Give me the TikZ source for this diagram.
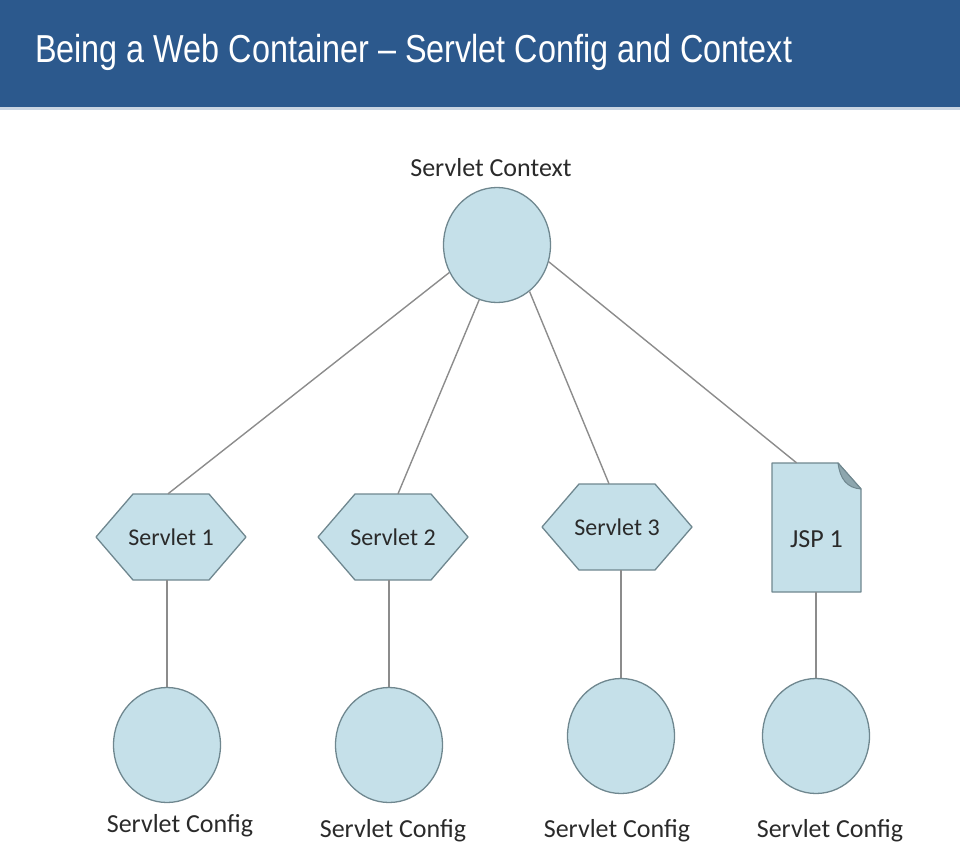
\documentclass[tikz,border=0pt]{standalone}
\usepackage{fontspec}
\setmainfont{Carlito}
\newfontfamily\titlefont{Liberation Sans}
\usetikzlibrary{shapes.geometric,positioning}
\definecolor{barblue}{HTML}{2C598D}
\definecolor{shapefill}{HTML}{C5E0E9}
\definecolor{shapeline}{HTML}{6F878F}
\definecolor{linkgray}{HTML}{8C8C8C}
\definecolor{inkgray}{HTML}{2A2A2A}
\tikzset{
  bubble/.style={ellipse, draw=shapeline, fill=shapefill, line width=1.3pt,
    minimum width=107pt, minimum height=115pt, inner sep=0pt},
  hexline/.style={draw=shapeline, fill=shapefill, line width=1.3pt, line join=round},
  hexnode/.style={rectangle, minimum width=150pt, minimum height=86pt, inner sep=0pt,
    text=inkgray, font=\fontsize{24}{28}\selectfont},
  tagtext/.style={text=inkgray, inner sep=2pt, font=\fontsize{26}{30}\selectfont},
  link/.style={draw=linkgray, line width=1.4pt}
}
\begin{document}
\begin{tikzpicture}[x=1pt,y=-1pt]
  \useasboundingbox (0,0) rectangle (960,864);
  \fill[barblue] (0,0) rectangle (960,107);
  \fill[barblue!25] (0,107) rectangle (960,110);
  \node[anchor=west, text=white, inner sep=0pt] (title) at (35,52)
    {\titlefont\fontsize{39}{44}\selectfont\scalebox{0.83}[1]{Being a Web Container – Servlet Config and Context}};

  % servlet context
  \node[bubble] (ctx) at (497,245) {};
  \node[tagtext, above=8pt of ctx, xshift=-6pt] (ctxtext) {Servlet Context};

  % servlets
  \foreach \n/\x/\y in {1/171/537, 2/393/537, 3/617/527} {
    \draw[hexline] (\x-75,\y) -- (\x-38,\y-43) -- (\x+38,\y-43) -- (\x+75,\y)
      -- (\x+38,\y+43) -- (\x-38,\y+43) -- cycle;
    \node[hexnode] (s\n) at (\x,\y) {Servlet \n};
  }

  % jsp page
  \draw[hexline] (772,463) -- (838,463) -- (861,489) -- (861,592) -- (772,592) -- cycle;
  \filldraw[fill=shapeline!65!shapefill, draw=shapeline, line width=1pt, line join=round]
    (838,463) .. controls (840,479) and (847,488) .. (861,489) -- cycle;
  \node[hexnode, minimum width=89pt, minimum height=129pt] (jsp) at (816.5,527.5) {};
  \node[tagtext] (jsptext) at ([yshift=-12pt]jsp.center) {JSP 1};

  % servlet configs
  \foreach \n/\x/\y/\tx/\ty in {1/167/745/180/826, 2/389/745/393/831,
                                3/621/736/617/831, 4/816/736/830/831} {
    \node[bubble] (c\n) at (\x,\y) {};
    \node[tagtext] (cfg\n) at (\tx,\ty) {Servlet Config};
  }

  \draw[link] (ctx.210) -- ([xshift=-3pt]s1.north);
  \draw[link] (ctx.252) -- ([xshift=5pt]s2.north);
  \draw[link] (ctx.305) -- ([xshift=-8pt]s3.north);
  \draw[link] (ctx.342) -- ([xshift=-20pt]jsp.north);
  \foreach \n/\t in {1/s1, 2/s2, 3/s3, 4/jsp}
    \draw[link] (c\n.north) -- (c\n.north |- \t.south);
\end{tikzpicture}
\end{document}
